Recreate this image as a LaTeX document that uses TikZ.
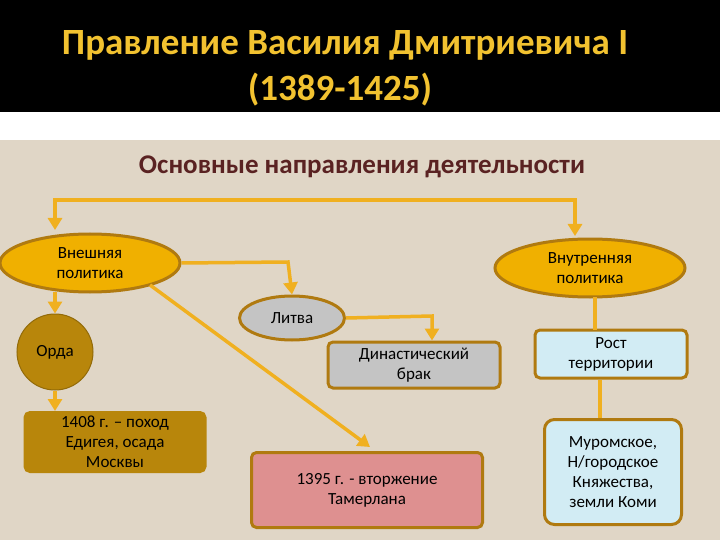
\documentclass[tikz,border=0pt]{standalone}
\usepackage{fontspec}
\setmainfont{Carlito}
\usetikzlibrary{shapes.geometric,arrows.meta}
\definecolor{gold}{HTML}{F0B000}
\definecolor{goldd}{HTML}{B07A10}
\definecolor{brownf}{HTML}{B8860B}
\definecolor{bg}{HTML}{E0D6C6}
\definecolor{arr}{HTML}{F0B020}
\definecolor{titley}{HTML}{F2C230}
\definecolor{sub}{HTML}{5A2222}
\definecolor{grayf}{HTML}{C4C4C4}
\definecolor{pinkf}{HTML}{DE9090}
\definecolor{bluef}{HTML}{D2ECF4}
\begin{document}
\begin{tikzpicture}[x=1pt,y=-1pt,
 conn/.style={draw=arr,line width=3.5pt,-{Triangle[length=12pt,width=14pt]}},
 plain/.style={draw=arr,line width=3.5pt},
 ell/.style={ellipse,draw=goldd,line width=3pt,font=\fontsize{17}{20}\selectfont,align=center,inner sep=0pt},
 bx/.style={rectangle,rounded corners=5pt,draw=goldd,line width=3pt,font=\fontsize{17}{20}\selectfont,align=center,inner sep=0pt}]
\useasboundingbox (0,0) rectangle (720,540);
\fill[black] (0,0) rectangle (720,112);
\fill[white] (0,112) rectangle (720,140);
\fill[bg] (0,140) rectangle (720,540);
\node[text=titley,font=\bfseries\fontsize{37}{42}\selectfont] (t1) at (345,45) {Правление Василия Дмитриевича I};
\node[text=titley,font=\bfseries\fontsize{37}{42}\selectfont] (t2) at (340,90) {(1389-1425)};
\node[text=sub,font=\bfseries\fontsize{27}{30}\selectfont] (st) at (362,167) {Основные направления деятельности};
\node[ell,fill=gold,minimum width=180pt,minimum height=58pt] (vn) at (90,263) {Внешняя\\политика};
\node[ell,fill=gold,minimum width=190pt,minimum height=58pt] (vt) at (590,268) {Внутренняя\\политика};
\node[ell,fill=grayf,minimum width=105pt,minimum height=44pt] (lt) at (292,318) {Литва};
\node[bx,fill=grayf,minimum width=172pt,minimum height=46pt] (db) at (414,365) {Династический\\брак};
\node[bx,fill=pinkf,minimum width=231pt,minimum height=75pt] (tm) at (367,490) {1395 г. - вторжение\\Тамерлана};
\node[circle,draw=brownf!80!black,line width=1pt,fill=brownf,minimum size=76pt,inner sep=0pt,font=\fontsize{17}{20}\selectfont] (or) at (55,352) {Орда};
\node[bx,draw=brownf,fill=brownf,minimum width=180pt,minimum height=59pt] (ed) at (115,442) {1408 г. – поход\\Едигея, осада\\Москвы};
\node[bx,fill=bluef,minimum width=152pt,minimum height=48pt] (rt) at (611,354) {Рост\\территории};
\node[bx,fill=bluef,minimum width=137pt,minimum height=105pt,rounded corners=10pt] (mr) at (613,472) {Муромское,\\Н/городское\\Княжества,\\земли Коми};
\coordinate (c1) at (55,200);
\coordinate (c2) at (575,200);
\draw[conn] (c2) -- (c1) -- (55,230);
\draw[conn] (c1) -- (c2) -- (575,236);
\draw[conn] (vn.east) -- (288,262) -- (lt.north);
\draw[conn] (lt.east) -- (432,316) -- (db.north -| 432,0);
\draw[conn] (150,285) -- (370,447);
\draw[conn] (55,292) -- (or.north);
\draw[conn] (or.south) -- (ed.north -| or.south);
\draw[plain] (595,297) -- (595,330);
\draw[plain] (600,380) -- (600,418);
\end{tikzpicture}
\end{document}
